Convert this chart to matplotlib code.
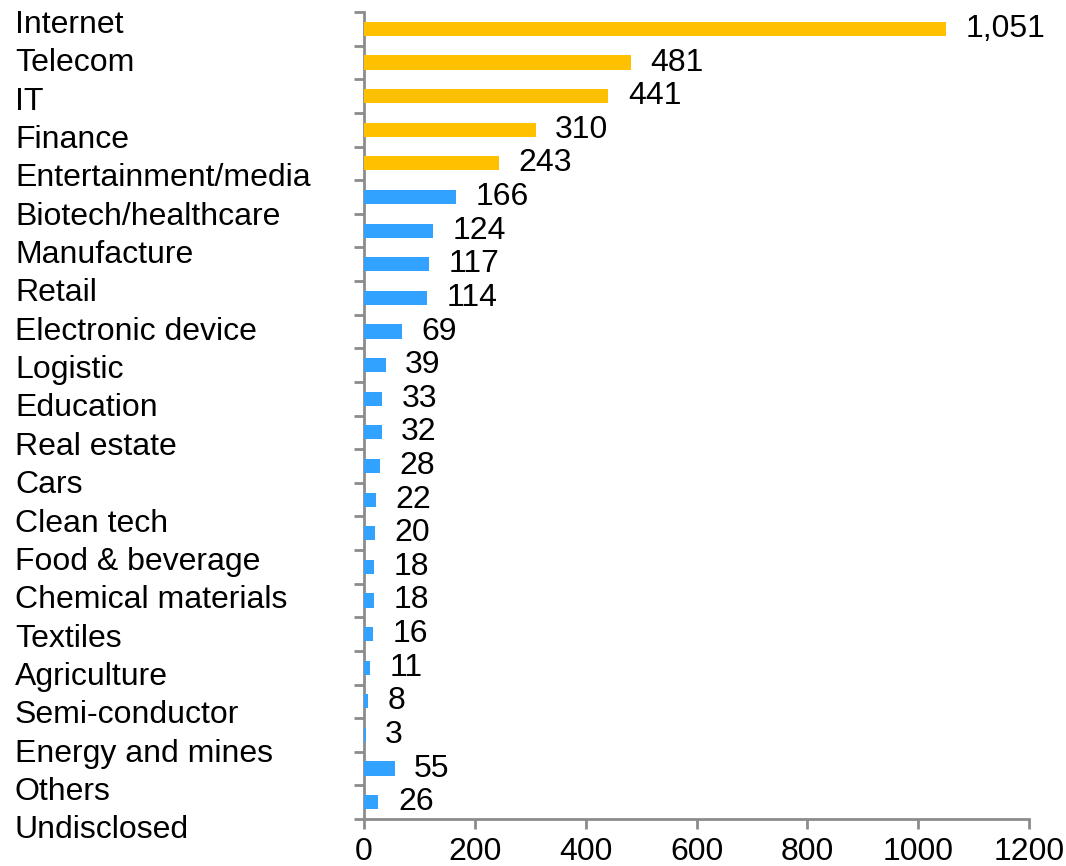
import matplotlib.pyplot as plt
import matplotlib.transforms as mtrans
import numpy as np

plt.rcParams['font.family'] = ['Liberation Sans', 'DejaVu Sans']

industries = ['Internet', 'Telecom', 'IT', 'Finance', 'Entertainment/media',
              'Biotech/healthcare', 'Manufacture', 'Retail', 'Electronic device',
              'Logistic', 'Education', 'Real estate', 'Cars', 'Clean tech',
              'Food & beverage', 'Chemical materials', 'Textiles', 'Agriculture',
              'Semi-conductor', 'Energy and mines', 'Others', 'Undisclosed']
deals = [1051, 481, 441, 310, 243, 166, 124, 117, 114, 69, 39, 33, 32, 28,
         22, 20, 18, 18, 16, 11, 8, 3, 55, 26]
n_top = 5

gold = '#FFC000'
blue = '#31A2FF'
grey = '#8C8C8C'

fig = plt.figure(figsize=(10.66, 8.66), dpi=100)
ax = fig.add_axes([0.3415, 0.0543, 0.6238, 0.9317])

pos = np.arange(len(deals))
colors = [gold if i < n_top else blue for i in pos]
bars = ax.barh(pos, deals, height=0.42, color=colors, zorder=3)

for b, v in zip(bars, deals):
    ax.annotate(f'{v:,}', (b.get_width(), b.get_y() + b.get_height() / 2),
                xytext=(14, 0), textcoords='offset points',
                ha='left', va='center', fontsize=23)

ax.set_xlim(0, 1200)
ax.set_ylim(len(deals) - 0.5, -0.5)
ax.set_xticks(np.arange(0, 1201, 200))
ax.set_yticks(np.arange(-0.5, len(deals), 1))
ax.set_yticklabels([])
ax.tick_params(axis='x', labelsize=23, length=7, width=2, color=grey, pad=6)
ax.tick_params(axis='y', length=7, width=2, color=grey)

for s in ['top', 'right']:
    ax.spines[s].set_visible(False)
for s in ['left', 'bottom']:
    ax.spines[s].set_color(grey)
    ax.spines[s].set_linewidth(2)

# category names sit in their own evenly spaced column left of the axis
label_y = np.linspace(0.984, -0.014, len(industries))
tr = mtrans.blended_transform_factory(fig.transFigure, ax.transAxes)
for name, y in zip(industries, label_y):
    ax.text(0.014, y, name, transform=tr, ha='left', va='center',
            fontsize=23, clip_on=False)

fig.savefig('out.png', dpi=100)
